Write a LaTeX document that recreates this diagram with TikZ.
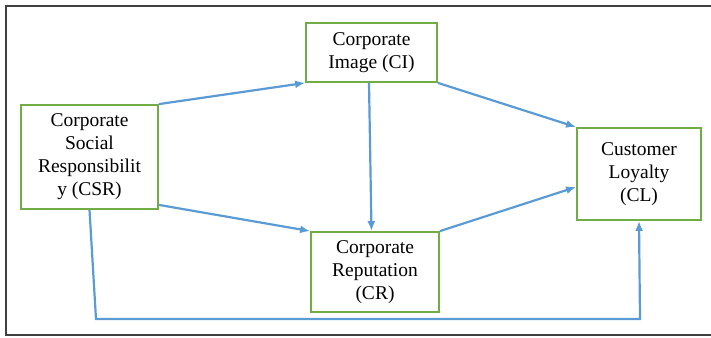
\documentclass[tikz,border=0pt]{standalone}
\usepackage{fontspec}
\setmainfont{Liberation Serif}
\newfontfamily\boxfont{Liberation Serif}
\usepackage{tikz}
\usetikzlibrary{arrows.meta,calc,positioning}
\definecolor{linkblue}{HTML}{5B9BD5}
\definecolor{boxgreen}{HTML}{70AD47}
\definecolor{framegray}{HTML}{404040}

\begin{document}
\begin{tikzpicture}[x=1pt,y=-1pt, every node/.style={font=\boxfont\fontsize{19.5}{23}\selectfont,align=center,inner sep=0pt},
  bx/.style={draw=boxgreen,line width=1.8pt,fill=white},
  ar/.style={-{Latex[length=10pt,width=8pt]},draw=linkblue,line width=2.2pt}]
  \useasboundingbox (0,0) rectangle (711,337);
  \draw[framegray,line width=1.6pt] (6,6) rectangle (716,335);
  \node[bx,minimum width=137pt,minimum height=104pt] (csr) at (89.5,157) {Corporate\\Social\\Responsibilit\\y (CSR)};
  \node[bx,minimum width=131pt,minimum height=59pt] (ci) at (371.5,52.5) {Corporate\\Image (CI)};
  \node[bx,minimum width=128pt,minimum height=80pt] (cr) at (375,272) {Corporate\\Reputation\\(CR)};
  \node[bx,minimum width=124pt,minimum height=92pt] (cl) at (639,174) {Customer\\Loyalty\\(CL)};
  \coordinate (turn1) at (96,319);
  \coordinate (turn2) at (640,319);
  \draw[ar] (csr.north east)--(ci.south west);
  \draw[ar] (ci.south east)--(cl.north west);
  \draw[ar] ($(ci.south)+(-2.5,0)$)--($(cr.north)+(-3.5,0)$);
  \draw[ar] ($(csr.south east)+(0,-5)$)--(cr.north west);
  \draw[ar] (cr.north east)--($(cl.west)+(0,13)$);
  \draw[ar] (csr.south)--(turn1)--(turn2)--(cl.south);
\end{tikzpicture}
\end{document}
